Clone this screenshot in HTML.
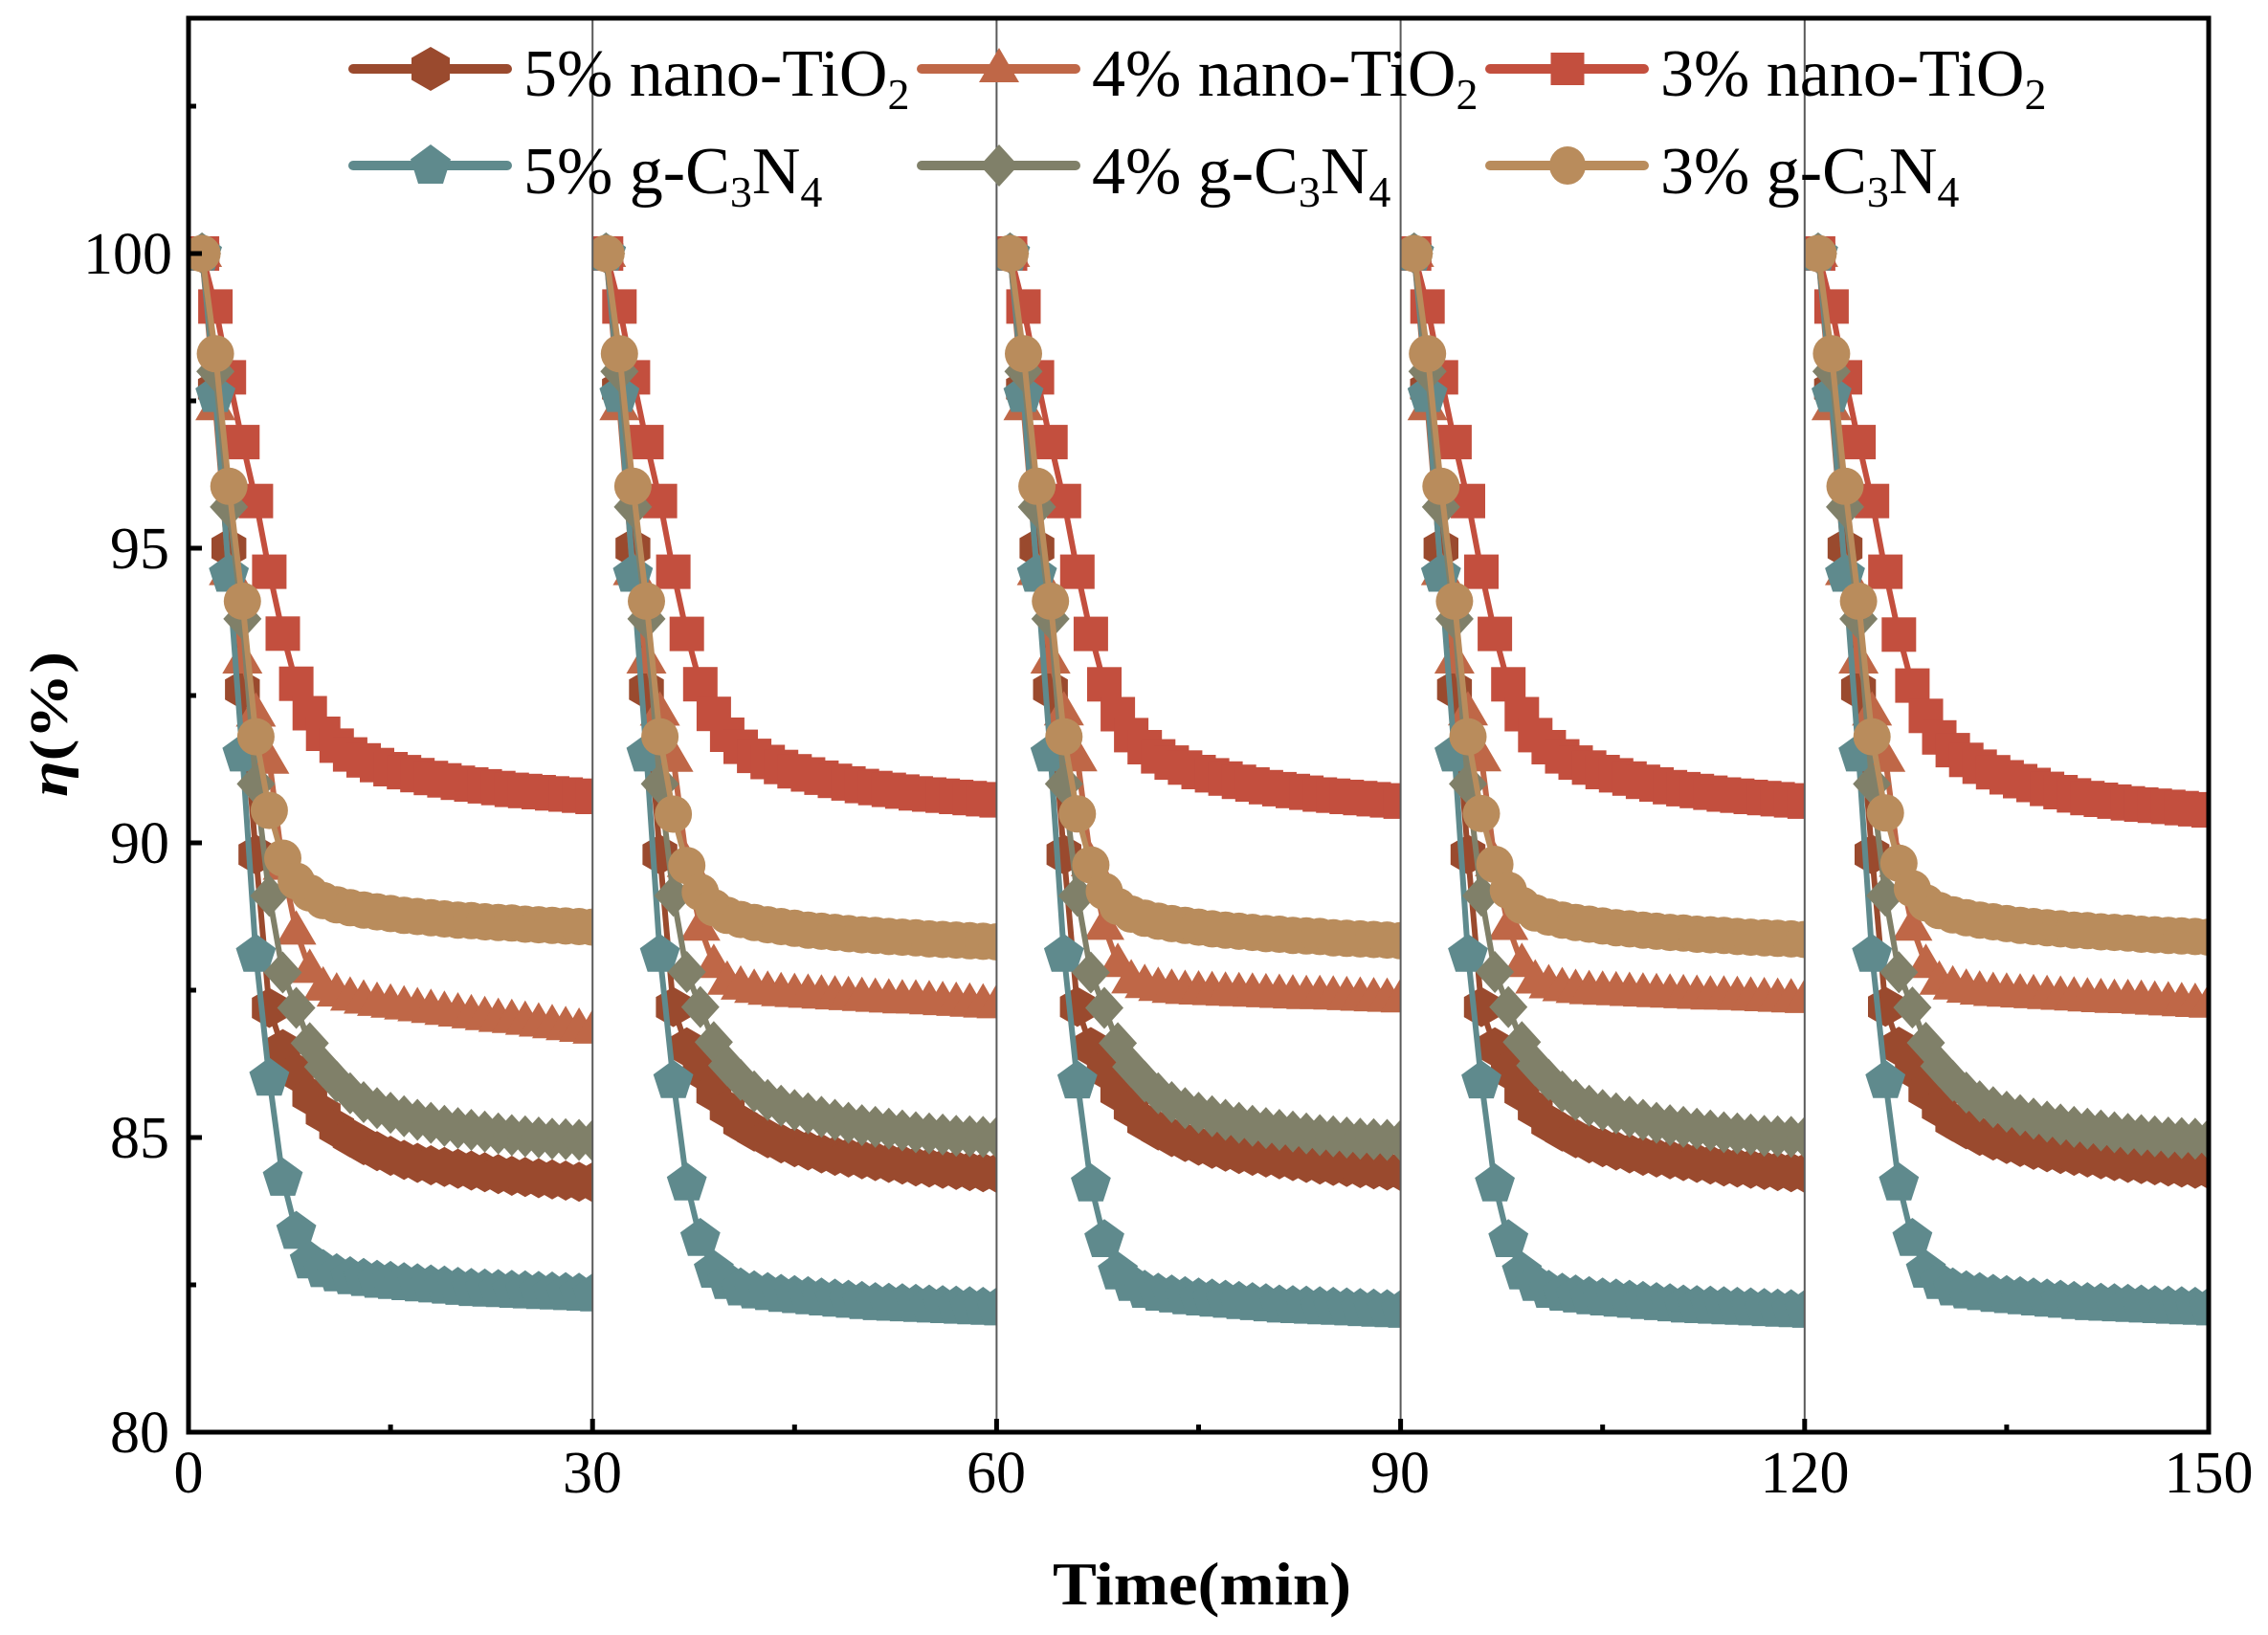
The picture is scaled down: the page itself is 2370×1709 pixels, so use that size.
<!DOCTYPE html>
<html>
<head>
<meta charset="utf-8">
<style>
  html,body{margin:0;padding:0;background:#fff;}
  svg{display:block;}
  text{font-family:"Liberation Serif","Times New Roman",serif;fill:#000;}
</style>
</head>
<body>
<svg id="chart" xmlns="http://www.w3.org/2000/svg" width="2370" height="1709" viewBox="0 0 2370 1709">
  <rect x="0" y="0" width="2370" height="1709" fill="#fff"/>
  <defs>
    <clipPath id="c0"><rect x="197" y="19" width="422.2" height="1478"/></clipPath>
    <clipPath id="c1"><rect x="619.2" y="19" width="422.2" height="1478"/></clipPath>
    <clipPath id="c2"><rect x="1041.4" y="19" width="422.2" height="1478"/></clipPath>
    <clipPath id="c3"><rect x="1463.6" y="19" width="422.2" height="1478"/></clipPath>
    <clipPath id="c4"><rect x="1885.8" y="19" width="422.2" height="1478"/></clipPath>
  </defs>

  <g id="data"></g>

  <!-- separators -->
  <g stroke="#5a5a5a" stroke-width="2">
    <line x1="619.2" y1="19" x2="619.2" y2="1497"/>
    <line x1="1041.4" y1="19" x2="1041.4" y2="1497"/>
    <line x1="1463.6" y1="19" x2="1463.6" y2="1497"/>
    <line x1="1885.8" y1="19" x2="1885.8" y2="1497"/>
  </g>

  <!-- frame -->
  <rect x="197" y="19" width="2111" height="1478" fill="none" stroke="#000" stroke-width="5"/>

  <!-- y ticks -->
  <g stroke="#000" stroke-width="5">
    <line x1="197" y1="1497" x2="211" y2="1497"/>
    <line x1="197" y1="1189" x2="211" y2="1189"/>
    <line x1="197" y1="881" x2="211" y2="881"/>
    <line x1="197" y1="573" x2="211" y2="573"/>
    <line x1="197" y1="265" x2="211" y2="265"/>
    <line x1="197" y1="1343" x2="205" y2="1343"/>
    <line x1="197" y1="1035" x2="205" y2="1035"/>
    <line x1="197" y1="727" x2="205" y2="727"/>
    <line x1="197" y1="419" x2="205" y2="419"/>
    <line x1="197" y1="111" x2="205" y2="111"/>
  </g>
  <!-- x ticks -->
  <g stroke="#000" stroke-width="5">
    <line x1="197" y1="1497" x2="197" y2="1483"/>
    <line x1="619.2" y1="1497" x2="619.2" y2="1483"/>
    <line x1="1041.4" y1="1497" x2="1041.4" y2="1483"/>
    <line x1="1463.6" y1="1497" x2="1463.6" y2="1483"/>
    <line x1="1885.8" y1="1497" x2="1885.8" y2="1483"/>
    <line x1="2308" y1="1497" x2="2308" y2="1483"/>
    <line x1="408.1" y1="1497" x2="408.1" y2="1489"/>
    <line x1="830.3" y1="1497" x2="830.3" y2="1489"/>
    <line x1="1252.5" y1="1497" x2="1252.5" y2="1489"/>
    <line x1="1674.7" y1="1497" x2="1674.7" y2="1489"/>
    <line x1="2096.9" y1="1497" x2="2096.9" y2="1489"/>
  </g>

  <!-- y tick labels -->
  <g font-size="62" text-anchor="end">
    <text x="177" y="1518">80</text>
    <text x="177" y="1210">85</text>
    <text x="177" y="902">90</text>
    <text x="177" y="594">95</text>
    <text x="180" y="286">100</text>
  </g>
  <!-- x tick labels -->
  <g font-size="62" text-anchor="middle">
    <text x="197" y="1560">0</text>
    <text x="619" y="1560">30</text>
    <text x="1041" y="1560">60</text>
    <text x="1463" y="1560">90</text>
    <text x="1886" y="1560">120</text>
    <text x="2308" y="1560">150</text>
  </g>

  <!-- axis titles -->
  <text x="1100" y="1677" font-size="64" font-weight="bold" textLength="312" lengthAdjust="spacingAndGlyphs">Time(min)</text>
  <text transform="translate(70,757) rotate(-90)" text-anchor="middle" font-size="56" font-weight="bold" textLength="152" lengthAdjust="spacingAndGlyphs"><tspan font-style="italic">η</tspan>(%)</text>

  <!-- legend -->
  <g id="legend">
    <g stroke-width="10" stroke-linecap="round">
      <line x1="369" y1="72" x2="530" y2="72" stroke="#9a4a2e"/>
      <line x1="963" y1="72" x2="1124" y2="72" stroke="#bf6747"/>
      <line x1="1557" y1="72" x2="1718" y2="72" stroke="#c34f3e"/>
      <line x1="369" y1="173" x2="530" y2="173" stroke="#5f8a8d"/>
      <line x1="963" y1="173" x2="1124" y2="173" stroke="#808069"/>
      <line x1="1557" y1="173" x2="1718" y2="173" stroke="#b98c5c"/>
    </g>
    <polygon fill="#9a4a2e" points="450,49 470,60.5 470,83.5 450,95 430,83.5 430,60.5"/>
    <polygon fill="#bf6747" points="1044,50 1065,86 1023,86"/>
    <rect fill="#c34f3e" x="1620.5" y="55" width="35" height="34"/>
    <polygon fill="#5f8a8d" points="450,151 471,166.5 463,192 437,192 429,166.5"/>
    <polygon fill="#808069" points="1044,151 1064,173 1044,195 1024,173"/>
    <ellipse fill="#b98c5c" cx="1638" cy="173" rx="19" ry="20"/>

    <g font-size="70">
      <text x="547" y="100">5% nano-TiO<tspan font-size="46" dy="14">2</tspan></text>
      <text x="1141" y="100">4% nano-TiO<tspan font-size="46" dy="14">2</tspan></text>
      <text x="1735" y="100">3% nano-TiO<tspan font-size="46" dy="14">2</tspan></text>
      <text x="547" y="202">5% g-C<tspan font-size="46" dy="14">3</tspan><tspan dy="-14">N</tspan><tspan font-size="46" dy="14">4</tspan></text>
      <text x="1141" y="202">4% g-C<tspan font-size="46" dy="14">3</tspan><tspan dy="-14">N</tspan><tspan font-size="46" dy="14">4</tspan></text>
      <text x="1735" y="202">3% g-C<tspan font-size="46" dy="14">3</tspan><tspan dy="-14">N</tspan><tspan font-size="46" dy="14">4</tspan></text>
    </g>
  </g>
</svg>
<script>
(function(){
  var X = function(t){ return 197 + t*14.0733; };
  var Y = function(v){ return 265 + (100 - v)*61.6; };
  var series = [
    { color:"#9a4a2e", shape:"hex", ramp:[4,15],
      base:[100,97.7,95.0,92.6,89.8,87.2,86.5,86.1,85.7,85.4,85.15,85.0,84.87,84.77,84.69,84.62,84.57,84.53,84.5,84.47,84.44,84.41,84.38,84.35,84.33,84.31,84.29,84.27,84.25,84.24],
      ends:[84.24,84.4,84.43,84.4,84.46] },
    { color:"#bf6747", shape:"tri", ramp:[3,29],
      base:[100,97.4,94.6,93.1,92.2,91.4,89.6,88.5,87.85,87.55,87.45,87.38,87.33,87.29,87.26,87.23,87.2,87.17,87.14,87.11,87.08,87.05,87.02,87.0,86.97,86.94,86.91,86.88,86.85,86.82],
      ends:[86.82,87.25,87.35,87.34,87.26] },
    { color:"#c34f3e", shape:"sq", ramp:[5,20],
      base:[100,99.1,97.9,96.8,95.8,94.6,93.55,92.7,92.2,91.85,91.65,91.5,91.4,91.32,91.25,91.2,91.15,91.1,91.06,91.02,90.99,90.96,90.93,90.9,90.88,90.86,90.84,90.82,90.8,90.78],
      ends:[90.78,90.72,90.7,90.7,90.55] },
    { color:"#5f8a8d", shape:"pent", ramp:[4,10],
      base:[100,97.6,94.55,91.5,88.1,86.0,84.3,83.4,82.9,82.75,82.68,82.63,82.6,82.57,82.55,82.53,82.51,82.49,82.47,82.45,82.43,82.42,82.41,82.4,82.39,82.38,82.37,82.36,82.35,82.34],
      ends:[82.34,82.1,82.06,82.06,82.1] },
    { color:"#808069", shape:"dia", ramp:[4,15],
      base:[100,98.0,95.7,93.8,91.0,89.1,87.8,87.2,86.6,86.2,85.95,85.75,85.6,85.5,85.42,85.36,85.3,85.25,85.2,85.16,85.13,85.1,85.07,85.04,85.02,85.0,84.98,84.97,84.96,84.95],
      ends:[84.95,85.0,84.95,85.0,84.97] },
    { color:"#b98c5c", shape:"circ", ramp:[4,8],
      base:[100,98.3,96.05,94.1,91.8,90.55,89.74,89.35,89.15,89.02,88.95,88.9,88.86,88.83,88.8,88.77,88.75,88.73,88.71,88.69,88.68,88.66,88.65,88.64,88.62,88.61,88.6,88.59,88.58,88.57],
      ends:[88.57,88.32,88.34,88.36,88.4] }
  ];
  function f(n){ return n.toFixed(1); }
  function marker(shape, x, y){
    switch(shape){
      case "hex": return '<polygon points="'+f(x)+','+f(y-21)+' '+f(x+18.2)+','+f(y-10.5)+' '+f(x+18.2)+','+f(y+10.5)+' '+f(x)+','+f(y+21)+' '+f(x-18.2)+','+f(y+10.5)+' '+f(x-18.2)+','+f(y-10.5)+'"/>';
      case "tri": return '<polygon points="'+f(x)+','+f(y-22)+' '+f(x+21)+','+f(y+14)+' '+f(x-21)+','+f(y+14)+'"/>';
      case "sq": return '<rect x="'+f(x-18)+'" y="'+f(y-18)+'" width="36" height="36"/>';
      case "pent": return '<polygon points="'+f(x)+','+f(y-22)+' '+f(x+20.9)+','+f(y-6.8)+' '+f(x+12.9)+','+f(y+17.8)+' '+f(x-12.9)+','+f(y+17.8)+' '+f(x-20.9)+','+f(y-6.8)+'"/>';
      case "dia": return '<polygon points="'+f(x)+','+f(y-22)+' '+f(x+20)+','+f(y)+' '+f(x)+','+f(y+22)+' '+f(x-20)+','+f(y)+'"/>';
      default: return '<circle cx="'+f(x)+'" cy="'+f(y)+'" r="19.5"/>';
    }
  }
  var out = '';
  series.forEach(function(s){
    for(var k=0;k<5;k++){
      var d = s.ends[k]-s.ends[0];
      var pts = [], mk = '';
      for(var i=0;i<30;i++){
        var a=s.ramp[0], b=s.ramp[1];
        var r = Math.max(0, Math.min(1, (i-a)/(b-a)));
        var v = s.base[i] + d*r;
        var x = X(30*k + 1 + i), y = Y(v);
        pts.push(f(x)+','+f(y));
        mk += marker(s.shape, x, y);
      }
      out += '<g clip-path="url(#c'+k+')">'
           + '<polyline fill="none" stroke="'+s.color+'" stroke-width="6" stroke-linejoin="round" points="'+pts.join(' ')+'"/>'
           + '<g fill="'+s.color+'">'+mk+'</g></g>';
    }
  });
  document.getElementById('data').innerHTML = out;
})();
</script>
</body>
</html>
